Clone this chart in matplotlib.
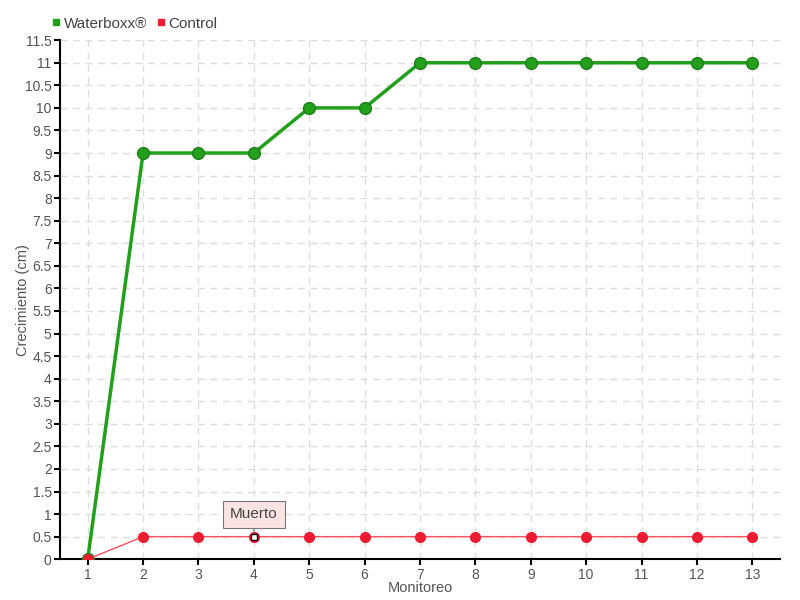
## Crecimiento por monitoreo: Waterboxx vs Control
import matplotlib
matplotlib.use('Agg')
import matplotlib.pyplot as plt
from matplotlib.lines import Line2D

## Data
monitoreo = [1, 2, 3, 4, 5, 6, 7, 8, 9, 10, 11, 12, 13]
waterboxx = [0, 9, 9, 9, 10, 10, 11, 11, 11, 11, 11, 11, 11]
control = [0, 0.5, 0.5, 0.5, 0.5, 0.5, 0.5, 0.5, 0.5, 0.5, 0.5, 0.5, 0.5]
muerto_idx = 3
yticks = [i * 0.5 for i in range(24)]
ytick_labels = ['0', '0.5', '1', '1.5', '2', '2.5', '3', '3.5', '4', '4.5', '5', '5.5',
    '6', '6.5', '7', '7.5', '8', '8.5', '9', '9.5', '10', '10.5', '11', '11.5']

plt.rcParams['font.family'] = ['Liberation Sans', 'DejaVu Sans']

fig = plt.figure(figsize=(8, 6), dpi=100)
ax = fig.add_axes([0.075, 0.068, 0.9, 0.865])

green = '#22a01c'
red = '#ee1c30'

## Series
ax.plot(monitoreo, waterboxx, color=green, lw=2.5, marker='o', ms=8.5,
    mfc=green, mec='#1c7f18', mew=1, zorder=3)
ax.plot(monitoreo, control, color='#ff5060', lw=1, marker='o', ms=7,
    mfc=red, mec=red, zorder=4)
ax.plot(monitoreo[muerto_idx], control[muerto_idx], marker='s', ms=4,
    mfc='white', mec='black', mew=1, zorder=5)

## Annotation
ax.annotate('Muerto', xy=(monitoreo[muerto_idx], control[muerto_idx]),
    xytext=(0, 16), textcoords='offset points', ha='center', va='center',
    fontsize=11, color='#444444',
    bbox=dict(boxstyle='square,pad=0.45', fc='#fde4e4', ec='#777777', lw=0.8),
    arrowprops=dict(arrowstyle='-', color='#777777', lw=0.8, shrinkA=0, shrinkB=3),
    zorder=6)

## Axes
ax.set_xlim(0.5, 13.5)
ax.set_ylim(0, 11.5)
ax.set_xticks(monitoreo)
ax.set_yticks(yticks)
ax.set_yticklabels(ytick_labels)
ax.grid(True, color='#dddddd', ls=(0, (5, 4)), lw=1)
ax.set_axisbelow(True)
for s in ['top', 'right']:
    ax.spines[s].set_visible(False)
for s in ['left', 'bottom']:
    ax.spines[s].set_color('black')
    ax.spines[s].set_linewidth(1.5)
ax.tick_params(labelcolor='#555555', labelsize=10, length=4, width=1.5,
    color='black', pad=2)
ax.set_xlabel('Monitoreo', color='#555555', fontsize=10.5)
ax.set_ylabel('Crecimiento (cm)', color='#555555', fontsize=10.5)
ax.xaxis.set_label_coords(0.5, -0.042)
ax.yaxis.set_label_coords(-0.041, 0.5)

## Legend
handles = [Line2D([], [], ls='', marker='s', ms=5, color=green),
    Line2D([], [], ls='', marker='s', ms=5, color=red)]
fig.legend(handles, ['Waterboxx®', 'Control'], loc='upper left',
    bbox_to_anchor=(0.047, 0.995), ncol=2, frameon=False, fontsize=11,
    handlelength=0.6, handletextpad=0.2, columnspacing=0.6, labelcolor='#444444')

fig.savefig('out.png')
